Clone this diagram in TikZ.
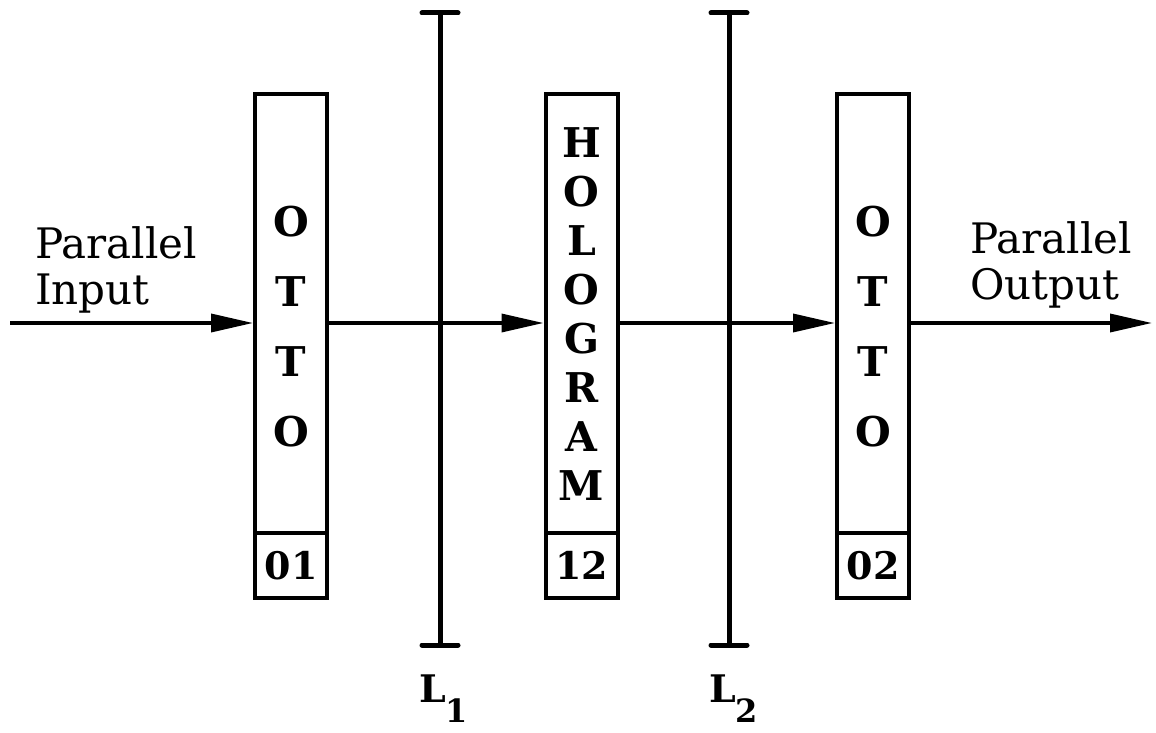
\documentclass[tikz,border=0pt]{standalone}
\usepackage{fontspec}
\setmainfont{DejaVu Serif}
\usetikzlibrary{arrows.meta}
\begin{document}
\begin{tikzpicture}[x=1pt,y=-1pt,
  box/.style={draw,line width=4pt,minimum width=72pt,inner sep=0pt,fill=white},
  numbox/.style={box,minimum height=65pt,font=\bfseries\fontsize{38}{44}\selectfont},
  lett/.style={font=\bfseries\fontsize{41}{46}\selectfont,inner sep=0pt},
  arr/.style={line width=3.5pt,-{Triangle[length=42pt,width=18pt]}},
  lensline/.style={line width=5pt},
  lenscap/.style={line width=5pt,line cap=round},
  lab/.style={font=\fontsize{42}{46}\selectfont,align=left,inner sep=0pt},
  lenslab/.style={font=\bfseries\fontsize{38}{42}\selectfont,inner sep=0pt}
]
\useasboundingbox (0,0) rectangle (1156,733);
% boxes
\node[box,minimum height=439pt] (b1) at (291,313.5) {};
\node[numbox] (n1) at (291,565.5) {01};
\node[box,minimum height=439pt] (b2) at (581.5,313.5) {};
\node[numbox] (n2) at (581.5,565.5) {12};
\node[box,minimum height=439pt] (b3) at (873,313.5) {};
\node[numbox] (n3) at (873,565.5) {02};
% letters
\foreach \l [count=\i from 0] in {O,T,T,O} {
  \node[lett] (oa\i) at (291,222+70*\i) {\l};
  \node[lett] (ob\i) at (873,222+70*\i) {\l};
}
\foreach \l [count=\i from 0] in {H,O,L,O,G,R,A,M} {
  \node[lett] (h\i) at (581.5,143+49*\i) {\l};
}
% lenses
\coordinate (l1t) at (440,13);
\coordinate (l1b) at (440,645);
\coordinate (l2t) at (729,13);
\coordinate (l2b) at (729,645);
\draw[lensline] (l1t) -- (l1b);
\draw[lensline] (l2t) -- (l2b);
\draw[lenscap] ([xshift=-18pt]l1t) -- ([xshift=18pt]l1t);
\draw[lenscap] ([xshift=-18pt]l1b) -- ([xshift=18pt]l1b);
\draw[lenscap] ([xshift=-18pt]l2t) -- ([xshift=18pt]l2t);
\draw[lenscap] ([xshift=-18pt]l2b) -- ([xshift=18pt]l2b);
% arrows
\coordinate (in) at (10,323);
\coordinate (out) at (1152,323);
\draw[arr] (in) -- (b1.west |- in);
\draw[arr] (b1.east |- in) -- (b2.west |- in);
\draw[arr] (b2.east |- in) -- (b3.west |- in);
\draw[arr] (b3.east |- in) -- (out);
% labels
\node[lab,anchor=west] (pin) at (35,270) {Parallel\\Input};
\node[lab,anchor=west] (pout) at (970,265) {Parallel\\Output};
\node[lenslab,anchor=base west] (L1) at (419,702) {L\raisebox{-20pt}{\fontsize{32}{36}\selectfont 1}};
\node[lenslab,anchor=base west] (L2) at (709,702) {L\raisebox{-20pt}{\fontsize{32}{36}\selectfont 2}};
\end{tikzpicture}
\end{document}
